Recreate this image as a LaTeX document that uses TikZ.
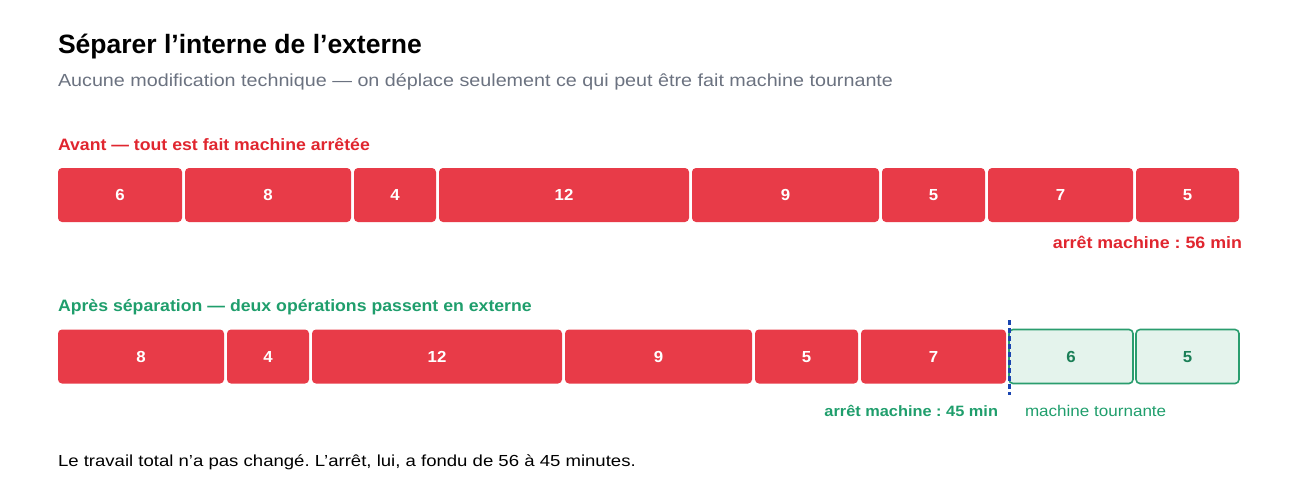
\documentclass[tikz,border=0pt]{standalone}
\usepackage{fontspec}
\setmainfont{Liberation Sans}
\usetikzlibrary{positioning}
\definecolor{stopred}{HTML}{E83B48}
\definecolor{stoptext}{HTML}{E0262F}
\definecolor{extgreen}{HTML}{2A9D6E}
\definecolor{extfill}{HTML}{E4F3EC}
\definecolor{extdark}{HTML}{1B7F57}
\definecolor{greentext}{HTML}{1F9E6C}
\definecolor{subgray}{HTML}{6B7280}
\definecolor{divblue}{HTML}{1A45B0}
% size, stretch
\newcommand\txtfont[2]{\fontsize{#1}{#1}\selectfont\addfontfeature{FakeStretch=#2}}
\frenchspacing

\begin{document}
\begin{tikzpicture}
[x=1pt,y=-1pt,%
  every node/.style={inner sep=0pt,outer sep=0pt},%
  lbl/.style={anchor=base west},%
  opbox/.style={anchor=north west,fill=stopred,rounded corners=4pt,
    minimum height=54pt,text=white,text height=11.5pt,text depth=0pt,
    font=\bfseries\txtfont{16}{1.05}},%
  extbox/.style={opbox,fill=extfill,draw=extgreen,line width=1.6pt,text=extdark},%
  divider/.style={divblue,line width=3pt,dash pattern=on 5pt off 3pt}]
\useasboundingbox (0,0) rectangle (1300,491);
\node[lbl,font=\bfseries\txtfont{26.5}{1.0}] (title) at (58,53)
  {Séparer l’interne de l’externe};
\node[lbl,text=subgray,font=\txtfont{17.5}{1.128}] (subtitle) at (58,86)
  {Aucune modification technique — on déplace seulement ce qui peut être fait machine tournante};
% avant
\node[lbl,text=stoptext,font=\bfseries\txtfont{16.5}{1.072}] (avant) at (58,150)
  {Avant — tout est fait machine arrêtée};
\foreach \x/\w/\m [count=\i] in {58/124/6,185/166/8,354/82/4,439/250/12,
    692/187/9,882/103/5,988/145/7,1136/103/5}
  \node[opbox,minimum width=\w pt] (a\i) at (\x,168) {\m};
\node[anchor=base east,text=stoptext,font=\bfseries\txtfont{16.5}{1.08}]
  (avantstop) at (1242,248) {arrêt machine : 56 min};
% apres
\node[lbl,text=greentext,font=\bfseries\txtfont{16.5}{1.072}] (apres) at (58,311)
  {Après séparation — deux opérations passent en externe};
\foreach \x/\w/\m [count=\i] in {58/166/8,227/82/4,312/250/12,565/187/9,
    755/103/5,861/145/7}
  \node[opbox,minimum width=\w pt] (b\i) at (\x,329.5) {\m};
\node[extbox,minimum width=124pt] (b7) at (1009,329.5) {6};
\node[extbox,minimum width=103pt] (b8) at (1136,329.5) {5};
\coordinate (divtop) at (1009,320);
\coordinate (divbot) at (1009,395);
\draw[divider] (divtop) -- (divbot);
\node[anchor=base east,text=greentext,font=\bfseries\txtfont{15}{1.09}]
  (apresstop) at (998,416) {arrêt machine : 45 min};
\node[lbl,text=greentext,font=\txtfont{15.5}{1.1}] (turning) at (1025,416)
  {machine tournante};
\node[lbl,font=\txtfont{16}{1.16}] (summary) at (58,466)
  {Le travail total n’a pas changé. L’arrêt, lui, a fondu de 56 à 45 minutes.};
\end{tikzpicture}
\end{document}
